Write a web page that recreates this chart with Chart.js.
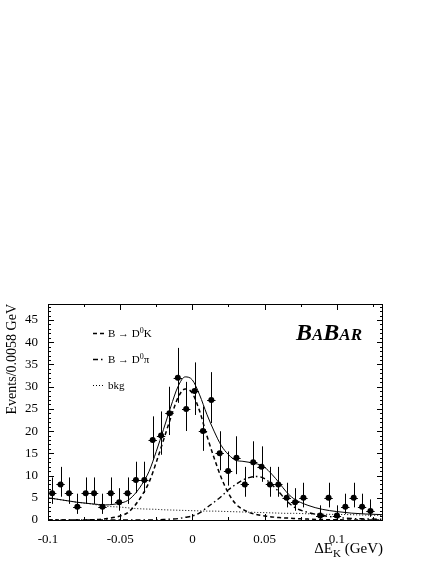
<!DOCTYPE html>
<html>
<head>
<meta charset="utf-8">
<script src="https://cdn.jsdelivr.net/npm/chart.js@4.4.1/dist/chart.umd.min.js"></script>
<style>
    html, body { margin: 0; padding: 0; background: #fff; }
    #wrap { width: 436px; height: 564px; position: relative; }
</style>
</head>
<body>
<div id="wrap"><canvas id="deltaEChart"></canvas></div>
<script>
const FONT = "'Liberation Serif', 'Times New Roman', serif";

// data points (bin width 0.0058 GeV), one empty bin left out
const binCenters = [-0.0971, -0.0913, -0.0855, -0.0797, -0.0739, -0.0681, -0.0623, -0.0565, -0.0507, -0.0449,
    -0.0391, -0.0333, -0.0275, -0.0217, -0.0159, -0.0101, -0.0043, 0.0015, 0.0073, 0.0131,
    0.0189, 0.0247, 0.0305, 0.0363, 0.0421, 0.0479, 0.0537, 0.0595, 0.0653, 0.0711,
    0.0769, 0.0827, 0.0885, 0.0943, 0.1001, 0.1059, 0.1117, 0.1175, 0.1233];
const eventCounts = [6, 8, 6, 3, 6, 6, 3, 6, 4, 6,
    9, 9, 18, 19, 24, 32, 25, 29, 20, 27,
    15, 11, 14, 8, 13, 12, 8, 8, 5, 4,
    5, null, 1, 5, 1, 3, 5, 3, 2];
const errLow = [2.38, 2.77, 2.38, 1.63, 2.38, 2.38, 1.63, 2.38, 1.91, 2.38,
    2.94, 2.94, 4.20, 4.32, 4.88, 5.64, 4.98, 5.37, 4.44, 5.18,
    3.82, 3.26, 3.68, 2.77, 3.55, 3.41, 2.77, 2.77, 2.16, 1.91,
    2.16, null, 0.83, 2.16, 0.83, 1.63, 2.16, 1.63, 1.29];
const errHigh = [3.58, 3.95, 3.58, 2.92, 3.58, 3.58, 2.92, 3.58, 3.16, 3.58,
    4.11, 4.11, 5.32, 5.43, 5.98, 6.72, 6.08, 6.46, 5.55, 6.27,
    4.97, 4.42, 4.84, 3.95, 4.71, 4.57, 3.95, 3.95, 3.38, 3.16,
    3.38, null, 2.30, 3.38, 2.30, 2.92, 3.38, 2.92, 2.64];
const binHalfWidth = 0.0029;

// fit curves
const curveX = [-0.1, -0.09, -0.08, -0.07, -0.06, -0.05, -0.045, -0.04, -0.035, -0.03,
    -0.025, -0.02, -0.015, -0.01, -0.005, 0, 0.005, 0.01, 0.015, 0.02,
    0.025, 0.03, 0.035, 0.04, 0.045, 0.05, 0.055, 0.06, 0.065, 0.07,
    0.08, 0.09, 0.1, 0.11, 0.12, 0.132];
const fitTotal = [5.0, 4.5, 4.0, 3.65, 3.4, 3.8, 4.35, 5.8, 8.0, 10.95,
    15.45, 20.4, 25.45, 30.0, 32.2, 31.5, 28.15, 23.8, 20.0, 16.75,
    14.7, 13.45, 13.2, 12.95, 12.6, 11.85, 10.3, 8.4, 6.35, 4.85,
    3.3, 2.4, 1.9, 1.55, 1.35, 1.2];
const sigDK = [0, 0, 0, 0.05, 0.3, 0.9, 1.6, 3.2, 5.5, 8.5,
    13, 18, 23, 27.5, 29.5, 28.5, 24.5, 19, 14, 9.5,
    6, 3.6, 2.4, 1.6, 1.2, 0.9, 0.7, 0.55, 0.45, 0.35,
    0.2, 0.1, 0.05, 0, 0, 0];
const sigDPi = [0, 0, 0, 0, 0, 0, 0, 0, 0, 0,
    0.05, 0.1, 0.2, 0.3, 0.6, 0.9, 1.6, 2.8, 4.0, 5.3,
    6.8, 8.0, 9.0, 9.6, 9.8, 9.3, 8.0, 6.3, 4.4, 3.0,
    1.7, 1.0, 0.6, 0.35, 0.25, 0.15];
const bkgCurve = [5.0, 4.5, 4.0, 3.6, 3.1, 2.9, 2.75, 2.6, 2.5, 2.45,
    2.4, 2.3, 2.25, 2.2, 2.15, 2.1, 2.05, 2.0, 2.0, 1.95,
    1.9, 1.85, 1.8, 1.75, 1.7, 1.65, 1.6, 1.55, 1.5, 1.5,
    1.4, 1.3, 1.25, 1.2, 1.1, 1.05];

const xTickValues = [-0.1, -0.05, 0, 0.05, 0.1];
const xTickLabels = ['-0.1', '-0.05', '0', '0.05', '0.1'];
const xMinorTicks = [-0.075, -0.025, 0.025, 0.075, 0.125];
const yTickValues = [0, 5, 10, 15, 20, 25, 30, 35, 40, 45];

function toPoints(xs, ys) {
    const pts = [];
    xs.forEach((x, i) => { if (ys[i] !== null) pts.push({ x: x, y: ys[i] }); });
    return pts;
}

// draws text where ^c is a superscript char and _c a subscript char
function drawRich(ctx, str, x, y, size, align) {
    const parts = [];
    for (let i = 0; i < str.length; i++) {
        if ((str[i] === '^' || str[i] === '_') && i + 1 < str.length) {
            parts.push({ t: str[i + 1], kind: str[i] });
            i++;
        } else {
            parts.push({ t: str[i], kind: '' });
        }
    }
    const small = Math.round(size * 0.7);
    let total = 0;
    parts.forEach(p => {
        ctx.font = (p.kind ? small : size) + 'px ' + FONT;
        p.w = ctx.measureText(p.t).width;
        total += p.w;
    });
    let cx = align === 'right' ? x - total : x;
    ctx.textAlign = 'left';
    ctx.textBaseline = 'alphabetic';
    parts.forEach(p => {
        ctx.font = (p.kind ? small : size) + 'px ' + FONT;
        let dy = 0;
        if (p.kind === '^') dy = -size * 0.38;
        if (p.kind === '_') dy = size * 0.25;
        ctx.fillText(p.t, cx, y + dy);
        cx += p.w;
    });
}

const errorBars = {
    id: 'errorBars',
    afterDatasetsDraw(chart) {
        const { ctx, scales: { x, y } } = chart;
        ctx.save();
        ctx.strokeStyle = '#000';
        ctx.lineWidth = 1;
        binCenters.forEach((bc, i) => {
            if (eventCounts[i] === null) return;
            const px = Math.round(x.getPixelForValue(bc)) + 0.5;
            const py = Math.round(y.getPixelForValue(eventCounts[i])) + 0.5;
            ctx.beginPath();
            ctx.moveTo(px, y.getPixelForValue(eventCounts[i] - errLow[i]));
            ctx.lineTo(px, y.getPixelForValue(eventCounts[i] + errHigh[i]));
            ctx.moveTo(x.getPixelForValue(bc - binHalfWidth), py);
            ctx.lineTo(x.getPixelForValue(bc + binHalfWidth), py);
            ctx.stroke();
        });
        ctx.restore();
    }
};

const frameAndText = {
    id: 'frameAndText',
    afterDraw(chart) {
        const { ctx, chartArea: a, scales: { x, y } } = chart;
        ctx.save();
        ctx.strokeStyle = '#000';
        ctx.fillStyle = '#000';
        ctx.lineWidth = 1;
        ctx.strokeRect(a.left + 0.5, a.top + 0.5, a.right - a.left - 1, a.bottom - a.top);

        ctx.beginPath();
        const xt = (v, len) => {
            const px = Math.round(x.getPixelForValue(v)) + 0.5;
            ctx.moveTo(px, a.bottom); ctx.lineTo(px, a.bottom - len);
            ctx.moveTo(px, a.top); ctx.lineTo(px, a.top + len);
        };
        xTickValues.forEach(v => xt(v, 6));
        xMinorTicks.forEach(v => xt(v, 3));
        for (let v = 0; v <= 48; v++) {
            const py = Math.round(y.getPixelForValue(v)) + 0.5;
            const len = v % 5 === 0 ? 6 : 3;
            ctx.moveTo(a.left, py); ctx.lineTo(a.left + len, py);
            ctx.moveTo(a.right, py); ctx.lineTo(a.right - len, py);
        }
        ctx.stroke();

        // x axis title
        drawRich(ctx, '\u0394E_K (GeV)', a.right, 553, 15, 'right');

        // legend
        const rows = [
            { label: 'B \u2192 D^0K', ds: 1, y: 333 },
            { label: 'B \u2192 D^0\u03c0', ds: 2, y: 359 },
            { label: 'bkg', ds: 3, y: 385 }
        ];
        rows.forEach(r => {
            const dset = chart.data.datasets[r.ds];
            ctx.save();
            ctx.lineWidth = dset.borderWidth;
            ctx.setLineDash(dset.borderDash);
            ctx.beginPath();
            ctx.moveTo(93, r.y + 0.5);
            ctx.lineTo(105, r.y + 0.5);
            ctx.stroke();
            ctx.restore();
            drawRich(ctx, r.label, 108, r.y + 4, 11, 'left');
        });

        // BaBar logo
        ctx.textBaseline = 'alphabetic';
        ctx.textAlign = 'left';
        let lx = 296;
        [['B', 24], ['A', 17], ['B', 24], ['AR', 17]].forEach(([t, s]) => {
            ctx.font = 'italic bold ' + s + 'px ' + FONT;
            ctx.fillText(t, lx, 340);
            lx += ctx.measureText(t).width;
        });
        ctx.restore();
    }
};

const ctx = document.getElementById('deltaEChart');
new Chart(ctx, {
    type: 'scatter',
    data: {
        datasets: [
            {
                label: 'data',
                data: toPoints(binCenters, eventCounts),
                pointRadius: 3,
                pointBackgroundColor: '#000',
                pointBorderColor: '#000',
                pointBorderWidth: 0,
                showLine: false,
                order: 0
            },
            {
                label: 'B \u2192 D0K',
                type: 'line',
                data: toPoints(curveX, sigDK),
                borderColor: '#000',
                borderWidth: 1.5,
                borderDash: [4, 3],
                pointRadius: 0,
                cubicInterpolationMode: 'monotone',
                fill: false,
                order: 2
            },
            {
                label: 'B \u2192 D0\u03c0',
                type: 'line',
                data: toPoints(curveX, sigDPi),
                borderColor: '#000',
                borderWidth: 1.4,
                borderDash: [5, 3, 1.5, 3],
                pointRadius: 0,
                cubicInterpolationMode: 'monotone',
                fill: false,
                order: 3
            },
            {
                label: 'bkg',
                type: 'line',
                data: toPoints(curveX, bkgCurve),
                borderColor: '#000',
                borderWidth: 1,
                borderDash: [1, 2],
                pointRadius: 0,
                cubicInterpolationMode: 'monotone',
                fill: false,
                order: 4
            },
            {
                label: 'fit',
                type: 'line',
                data: toPoints(curveX, fitTotal),
                borderColor: '#000',
                borderWidth: 1,
                pointRadius: 0,
                cubicInterpolationMode: 'monotone',
                fill: false,
                order: 1
            }
        ]
    },
    options: {
        responsive: true,
        maintainAspectRatio: false,
        animation: false,
        layout: { padding: { left: 0, top: 304, right: 53, bottom: 0 } },
        plugins: {
            legend: { display: false },
            tooltip: { enabled: false }
        },
        scales: {
            x: {
                type: 'linear',
                min: -0.1,
                max: 0.132,
                grid: { display: false },
                border: { display: false },
                afterBuildTicks: (scale) => { scale.ticks = xTickValues.map(v => ({ value: v })); },
                afterFit: (scale) => { scale.height = 44; },
                ticks: {
                    color: '#000',
                    padding: 4,
                    maxRotation: 0,
                    font: { family: FONT, size: 13 },
                    callback: (v) => xTickLabels[xTickValues.indexOf(v)]
                }
            },
            y: {
                min: 0,
                max: 48.6,
                grid: { display: false },
                border: { display: false },
                afterBuildTicks: (scale) => { scale.ticks = yTickValues.map(v => ({ value: v })); },
                afterFit: (scale) => { scale.width = 48; },
                ticks: {
                    color: '#000',
                    padding: 2,
                    font: { family: FONT, size: 13 }
                },
                title: {
                    display: true,
                    text: 'Events/0.0058 GeV',
                    align: 'end',
                    color: '#000',
                    font: { family: FONT, size: 14 },
                    padding: { top: 4, bottom: 0 }
                }
            }
        }
    },
    plugins: [errorBars, frameAndText]
});
</script>
</body>
</html>
